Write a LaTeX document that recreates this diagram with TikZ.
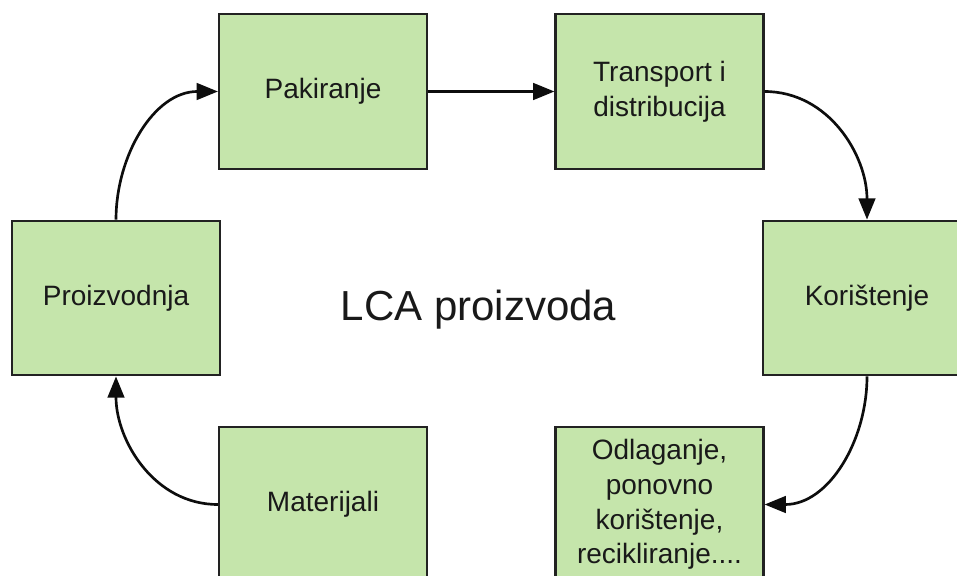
\documentclass[tikz,border=0pt]{standalone}
\usepackage{fontspec}
\setmainfont{Liberation Sans}
\usetikzlibrary{arrows.meta}
\definecolor{stagegreen}{HTML}{C5E5AB}
\definecolor{stageline}{HTML}{222222}

\begin{document}
\begin{tikzpicture}[x=0.75pt, y=-0.75pt]
		\tikzset{stage/.style={draw=stageline, fill=stagegreen, line width=1.6pt, minimum width=156pt, minimum height=116pt, inner sep=0pt, align=center, text=black!90, font=\fontsize{21}{26}\selectfont}}
		\tikzset{next/.style={-{Triangle[length=16pt, width=12.5pt]}, line width=2pt, black!95}}
		\useasboundingbox [fill=white] (0,0) rectangle (957,575);
		\node [stage] (pak) at (323, 91.5) {Pakiranje};
		\node [stage] (trans) at (659.5, 91.5) {Transport i\\distribucija};
		\node [stage] (proiz) at (116, 298) {Proizvodnja};
		\node [stage] (kor) at (867, 298) {Korištenje};
		\node [stage] (mat) at (323, 504.5) {Materijali};
		\node [stage] (odl) at (659.5, 504.5) {Odlaganje,\\ponovno\\korištenje,\\recikliranje....};
		\node [anchor=base, text=black!90, font=\fontsize{31.5}{38}\selectfont] (lca) at (478.5, 320) {LCA proizvoda};
		\draw [next] (pak.east) -- (trans.west);
		\draw [next] (trans.east) to [out=0, in=90] (kor.north);
		\draw [next] (kor.south) to [out=-90, in=0] (odl.east);
		\draw [next] (mat.west) to [out=180, in=-90] (proiz.south);
		\draw [next] (proiz.north) to [out=90, in=180] (pak.west);
	\end{tikzpicture}
\end{document}
